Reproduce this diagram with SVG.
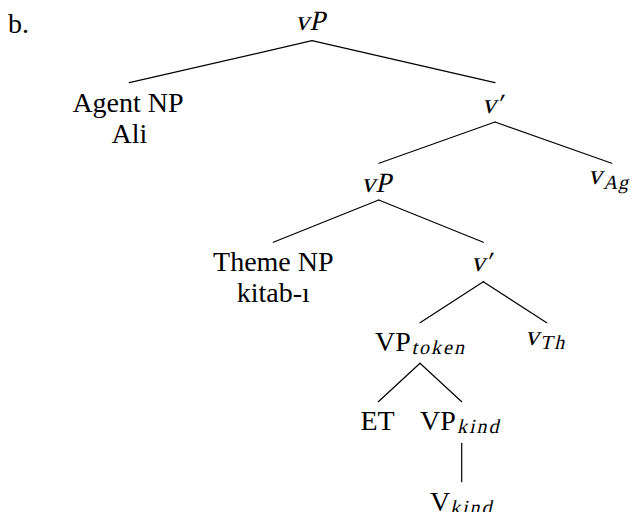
<svg xmlns="http://www.w3.org/2000/svg" width="631" height="512" viewBox="0 0 631 512">
<style>
text{font-family:"Liberation Serif","Times New Roman",serif;font-size:28px;fill:#000;font-style:normal}
.c{text-anchor:middle}
.s{text-anchor:start}
.sub{font-size:20px;letter-spacing:2px;text-anchor:start}
.edge{stroke:#000;stroke-width:1.2;fill:none;stroke-linecap:round}
</style>
<rect width="631" height="512" fill="#fff"/>
<g id="connectors">
<line class="edge" x1="312" y1="40.7" x2="129.3" y2="82.7"/>
<line class="edge" x1="312" y1="40.7" x2="495" y2="82.7"/>
<line class="edge" x1="495" y1="122" x2="379" y2="163.3"/>
<line class="edge" x1="495" y1="122" x2="611.7" y2="163.3"/>
<line class="edge" x1="378.7" y1="200" x2="273.3" y2="242.3"/>
<line class="edge" x1="378.7" y1="200" x2="483.3" y2="242.3"/>
<line class="edge" x1="483.3" y1="281.7" x2="420" y2="322.7"/>
<line class="edge" x1="483.3" y1="281.7" x2="546.7" y2="322.7"/>
<line class="edge" x1="420" y1="363.3" x2="378.3" y2="401.7"/>
<line class="edge" x1="420" y1="363.3" x2="461.7" y2="401.7"/>
<line class="edge" x1="461.7" y1="443.3" x2="461.7" y2="481.7"/>
</g>
<g id="label-b"><text class="s" x="8" y="33.3">b.</text></g>
<g id="node-vP-root"><text class="c" transform="translate(310,30) skewX(-13)">vP</text></g>
<g id="node-agent"><text class="c" x="128" y="111.7">Agent NP</text><text class="c" x="129.5" y="142.7">Ali</text></g>
<g id="node-vbar1"><text class="c" transform="translate(492,113.3) skewX(-13)">v′</text></g>
<g id="node-vP2"><text class="c" transform="translate(376,191.7) skewX(-13)">vP</text></g>
<g id="node-vAg"><text class="s" transform="translate(588,184) skewX(-13)">v</text><text class="sub" style="letter-spacing:0.5px" transform="translate(603,188.5) skewX(-13)">Ag</text></g>
<g id="node-theme"><text class="c" x="273.3" y="271">Theme NP</text><text class="c" x="273.3" y="302.3">kitab-ı</text></g>
<g id="node-vbar2"><text class="c" transform="translate(481,271) skewX(-13)">v′</text></g>
<g id="node-VPtoken"><text class="s" x="375" y="350.5">VP</text><text class="sub" transform="translate(411.5,353.5) skewX(-13)">token</text></g>
<g id="node-vTh"><text class="s" transform="translate(525,345) skewX(-13)">v</text><text class="sub" transform="translate(540,349) skewX(-13)">Th</text></g>
<g id="node-ET"><text class="c" x="377.5" y="430">ET</text></g>
<g id="node-VPkind"><text class="s" x="420" y="430">VP</text><text class="sub" transform="translate(457,433) skewX(-13)">kind</text></g>
<g id="node-Vkind"><text class="s" x="430" y="510.5">V</text><text class="sub" transform="translate(450,513.5) skewX(-13)">kind</text></g>
</svg>
